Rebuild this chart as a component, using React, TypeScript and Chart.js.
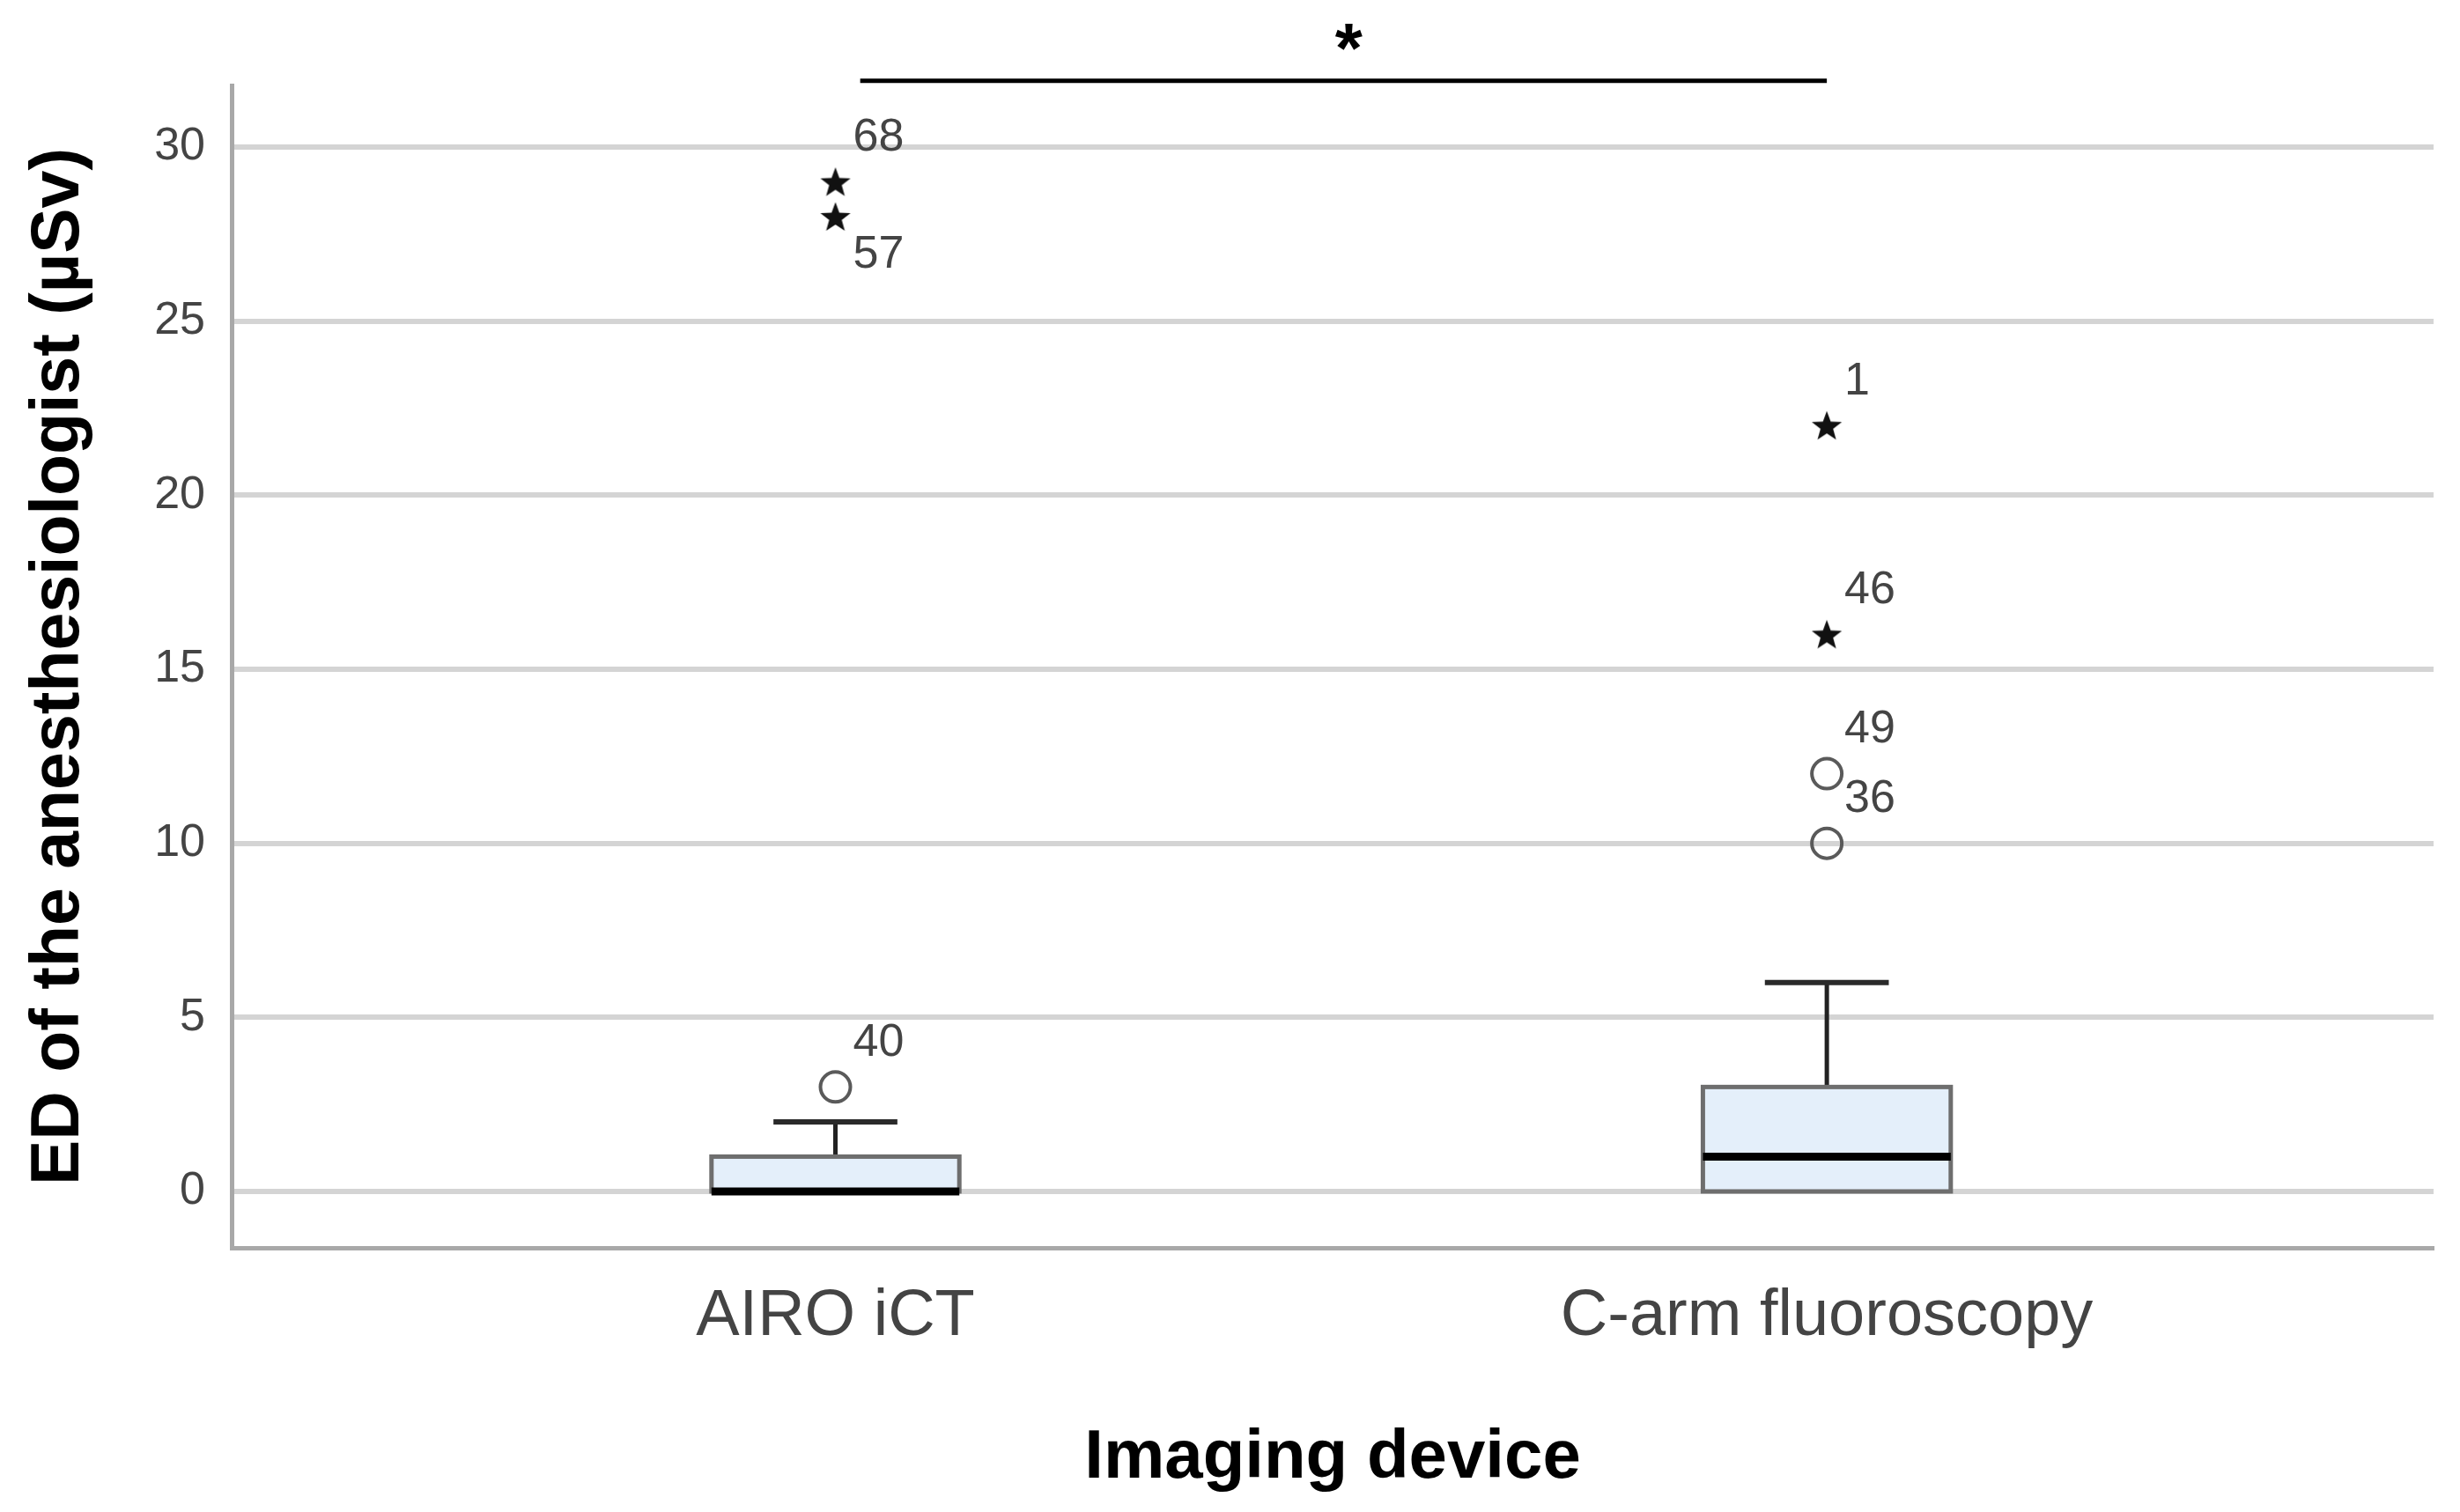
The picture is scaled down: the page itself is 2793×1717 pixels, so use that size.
import React, { useEffect, useRef } from 'react';
import { Chart, registerables } from 'chart.js';

Chart.register(...registerables);

// ---- data ----
const categories = ['AIRO iCT', 'C-arm fluoroscopy'];
const categoryPositions = [1, 2];
const whiskerLow = [0, 0];
const q1 = [0, 0];
const median = [0, 1];
const q3 = [1, 3];
const whiskerHigh = [2, 6];
const outlierValues = [[3], [12, 10]];
const outlierIds = [['40'], ['49', '36']];
const extremeValues = [[29, 28], [22, 16]];
const extremeIds = [['68', '57'], ['1', '46']];
const labelsBelow = ['57'];
const yTicks = [0, 5, 10, 15, 20, 25, 30];
const sigSpan = [1.025, 2];
const sigLevel = 31.9;
const sigLabel = '*';
const yAxisTitle = 'ED of the anesthesiologist (µSv)';
const xAxisTitle = 'Imaging device';

// ---- layout / style constants ----
const W = 2793;
const H = 1717;
const X_MIN = 0.391;
const X_MAX = 2.612;
const Y_MIN = -1.62;
const Y_MAX = 31.77;
const BOX_W = 0.25;
const FONT = "'Liberation Sans', Arial, sans-serif";

function makeStar(): HTMLCanvasElement {
  const c = document.createElement('canvas');
  const s = 40;
  c.width = s;
  c.height = s;
  const g = c.getContext('2d')!;
  const cx = s / 2, cy = s / 2 + 1.5;
  const ro = 18, ri = 7.5;
  g.beginPath();
  for (let k = 0; k < 10; k++) {
    const r = k % 2 === 0 ? ro : ri;
    const a = -Math.PI / 2 + (k * Math.PI) / 5;
    const px = cx + r * Math.cos(a);
    const py = cy + r * Math.sin(a);
    if (k === 0) g.moveTo(px, py); else g.lineTo(px, py);
  }
  g.closePath();
  g.fillStyle = '#111';
  g.fill();
  return c;
}

const boxPlugin = {
  id: 'spssBoxes',
  beforeDatasetsDraw(chart: any) {
    const { ctx, scales } = chart;
    const x = scales.x, y = scales.y;
    ctx.save();
    categoryPositions.forEach((pos, i) => {
      const cx = x.getPixelForValue(pos);
      const half = x.getPixelForValue(pos + BOX_W / 2) - cx;
      const capHalf = half / 2;
      const yQ1 = y.getPixelForValue(q1[i]);
      const yQ3 = y.getPixelForValue(q3[i]);
      const yMed = y.getPixelForValue(median[i]);
      const yHi = y.getPixelForValue(whiskerHigh[i]);
      const yLo = y.getPixelForValue(whiskerLow[i]);
      ctx.lineCap = 'butt';
      // whiskers
      ctx.strokeStyle = '#222';
      ctx.lineWidth = 5;
      ctx.beginPath();
      ctx.moveTo(cx, yQ3);
      ctx.lineTo(cx, yHi);
      if (whiskerLow[i] !== q1[i]) {
        ctx.moveTo(cx, yQ1);
        ctx.lineTo(cx, yLo);
      }
      ctx.stroke();
      // caps
      ctx.strokeStyle = '#2a2a2a';
      ctx.lineWidth = 6;
      ctx.beginPath();
      ctx.moveTo(cx - capHalf, yHi);
      ctx.lineTo(cx + capHalf, yHi);
      if (whiskerLow[i] !== q1[i]) {
        ctx.moveTo(cx - capHalf, yLo);
        ctx.lineTo(cx + capHalf, yLo);
      }
      ctx.stroke();
      // box
      ctx.fillStyle = '#e4effa';
      ctx.fillRect(cx - half, yQ3, 2 * half, yQ1 - yQ3);
      ctx.strokeStyle = '#6e6e6e';
      ctx.lineWidth = 5;
      ctx.strokeRect(cx - half, yQ3, 2 * half, yQ1 - yQ3);
      // median
      ctx.strokeStyle = '#000';
      ctx.lineWidth = 9;
      ctx.beginPath();
      ctx.moveTo(cx - half, yMed);
      ctx.lineTo(cx + half, yMed);
      ctx.stroke();
    });
    ctx.restore();
  },
};

const labelPlugin = {
  id: 'pointLabels',
  afterDatasetsDraw(chart: any) {
    const { ctx, scales } = chart;
    const x = scales.x, y = scales.y;
    ctx.save();
    ctx.font = `52px ${FONT}`;
    ctx.fillStyle = '#444';
    ctx.textAlign = 'left';
    ctx.textBaseline = 'middle';
    const draw = (vals: number[][], ids: string[][]) => {
      vals.forEach((arr, i) => {
        arr.forEach((v, j) => {
          const px = x.getPixelForValue(categoryPositions[i]);
          const py = y.getPixelForValue(v);
          const id = ids[i][j];
          const dy = labelsBelow.includes(id) ? 44 : -50;
          ctx.fillText(id, px + 20, py + dy);
        });
      });
    };
    draw(outlierValues, outlierIds);
    draw(extremeValues, extremeIds);
    ctx.restore();
  },
};

const sigPlugin = {
  id: 'significance',
  afterDraw(chart: any) {
    const { ctx, scales } = chart;
    const x = scales.x, y = scales.y;
    const x1 = x.getPixelForValue(sigSpan[0]);
    const x2 = x.getPixelForValue(sigSpan[1]);
    const yy = y.getPixelForValue(sigLevel);
    ctx.save();
    ctx.strokeStyle = '#000';
    ctx.lineWidth = 5;
    ctx.beginPath();
    ctx.moveTo(x1, yy);
    ctx.lineTo(x2, yy);
    ctx.stroke();
    ctx.font = `bold 80px ${FONT}`;
    ctx.fillStyle = '#000';
    ctx.textAlign = 'center';
    ctx.textBaseline = 'alphabetic';
    ctx.fillText(sigLabel, (x1 + x2) / 2 + 6, yy - 10);
    ctx.restore();
  },
};

export default function App() {
  const ref = useRef<HTMLCanvasElement | null>(null);
  useEffect(() => {
    document.body.style.margin = '0';
    const canvas = ref.current;
    if (!canvas) return;
    const star = makeStar();
    const outlierData: { x: number; y: number }[] = [];
    outlierValues.forEach((arr, i) => arr.forEach((v) => outlierData.push({ x: categoryPositions[i], y: v })));
    const extremeData: { x: number; y: number }[] = [];
    extremeValues.forEach((arr, i) => arr.forEach((v) => extremeData.push({ x: categoryPositions[i], y: v })));

    const chart = new Chart(canvas, {
      type: 'scatter',
      data: {
        datasets: [
          {
            label: 'Outliers',
            data: outlierData,
            pointStyle: 'circle',
            pointRadius: 17,
            pointBorderWidth: 4,
            pointBorderColor: '#5a5a5a',
            pointBackgroundColor: 'rgba(0,0,0,0)',
          },
          {
            label: 'Extremes',
            data: extremeData,
            pointStyle: star as any,
            pointRadius: 18,
          },
        ],
      },
      options: {
        responsive: false,
        animation: false,
        layout: { padding: { left: 0, top: 97, right: 30, bottom: 0 } },
        plugins: { legend: { display: false }, tooltip: { enabled: false } },
        scales: {
          x: {
            type: 'linear',
            min: X_MIN,
            max: X_MAX,
            afterBuildTicks: (s: any) => {
              s.ticks = categoryPositions.map((v) => ({ value: v }));
            },
            afterFit: (s: any) => {
              s.height = 300;
            },
            ticks: {
              callback: (v: any) => {
                const idx = categoryPositions.indexOf(Number(v));
                return idx >= 0 ? categories[idx] : '';
              },
              font: { family: FONT, size: 74 },
              color: '#444',
              padding: 34,
              maxRotation: 0,
              autoSkip: false,
            },
            grid: { display: false, drawTicks: false },
            border: { display: true, color: '#a8a8a8', width: 5 },
            title: {
              display: true,
              text: xAxisTitle,
              font: { family: FONT, size: 78, weight: 'bold' },
              color: '#000',
              padding: { top: 0, bottom: 14 },
            },
          },
          y: {
            type: 'linear',
            min: Y_MIN,
            max: Y_MAX,
            afterBuildTicks: (s: any) => {
              s.ticks = yTicks.map((v) => ({ value: v }));
            },
            afterFit: (s: any) => {
              s.width = 263;
            },
            ticks: {
              font: { family: FONT, size: 52 },
              color: '#444',
              padding: 30,
            },
            grid: { color: '#d4d4d4', lineWidth: 6, drawTicks: false },
            border: { display: true, color: '#a8a8a8', width: 5 },
            title: {
              display: true,
              text: yAxisTitle,
              font: { family: FONT, size: 77, weight: 'bold' },
              color: '#000',
              padding: { top: 22, bottom: 0 },
            },
          },
        },
      },
      plugins: [boxPlugin, labelPlugin, sigPlugin],
    });
    return () => chart.destroy();
  }, []);
  return (
    <canvas
      ref={ref}
      width={W}
      height={H}
      style={{ display: 'block', width: W + 'px', height: H + 'px' }}
    />
  );
}
